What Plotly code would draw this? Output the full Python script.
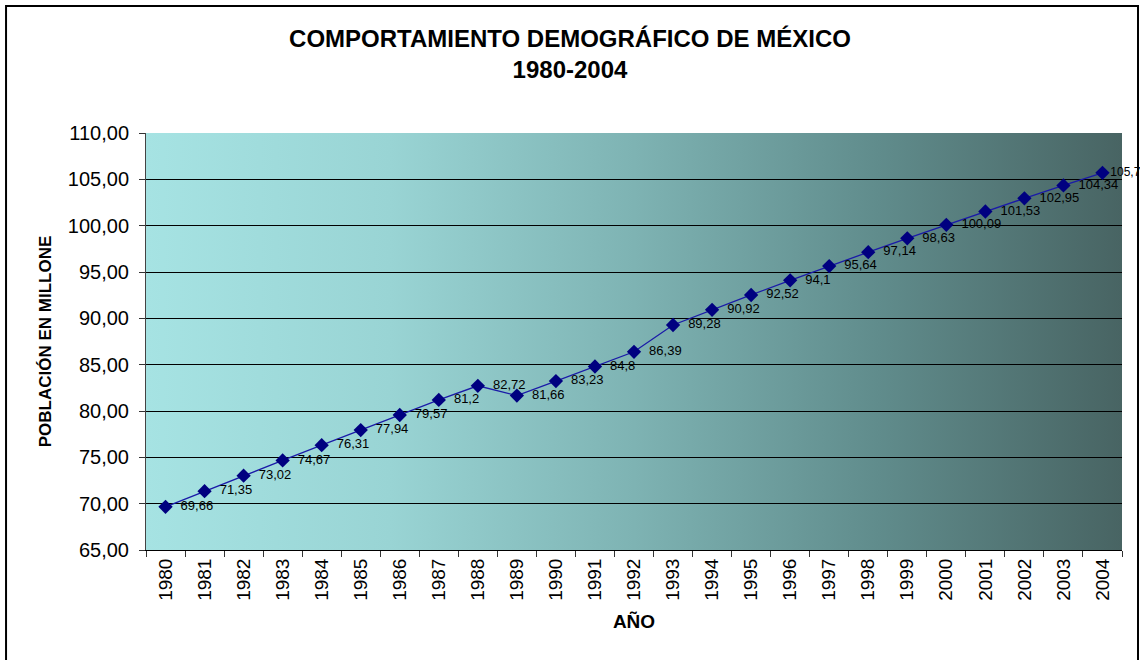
import base64
import plotly.graph_objects as go

# Datos: población de México (millones) por año
anios = [str(a) for a in range(1980, 2005)]
poblacion = [69.66, 71.35, 73.02, 74.67, 76.31, 77.94, 79.57, 81.2, 82.72, 81.66,
             83.23, 84.8, 86.39, 89.28, 90.92, 92.52, 94.1, 95.64, 97.14, 98.63,
             100.09, 101.53, 102.95, 104.34, 105.7]
etiquetas = ["\u00a0\u00a0" + f"{v:g}".replace(".", ",") for v in poblacion]
etiquetas[-1] = etiquetas[-1].strip("\u00a0")  # la última va pegada al borde

# Fondo degradado del área de trazado (SVG en línea)
svg = ('<svg xmlns="http://www.w3.org/2000/svg" width="100" height="100" preserveAspectRatio="none">'
       '<defs><linearGradient id="g" x1="0" y1="0" x2="1" y2="0">'
       '<stop offset="0" stop-color="#A6E3E3"/>'
       '<stop offset="0.25" stop-color="#99D4D4"/>'
       '<stop offset="0.5" stop-color="#7EB3B3"/>'
       '<stop offset="0.75" stop-color="#608C8C"/>'
       '<stop offset="1" stop-color="#486463"/>'
       '</linearGradient></defs>'
       '<rect width="100" height="100" fill="url(#g)"/></svg>')
fondo = "data:image/svg+xml;base64," + base64.b64encode(svg.encode()).decode()

fig = go.Figure()
fig.add_trace(go.Scatter(
    x=anios, y=poblacion, mode="lines+markers+text",
    text=etiquetas, textposition="middle right",
    textfont=dict(family="Arial", size=[13] * 24 + [12], color="black"),
    line=dict(color="#1A1AA8", width=1.3),
    marker=dict(symbol="diamond", size=11, color="#000080"),
    cliponaxis=False, showlegend=False,
))

fig.update_layout(
    width=1140, height=660,
    margin=dict(l=146, r=18, t=133, b=110),
    paper_bgcolor="white", plot_bgcolor="rgba(0,0,0,0)",
    separators=",.",
    font=dict(family="Arial", color="black"),
    title=dict(text="<b>COMPORTAMIENTO DEMOGRÁFICO DE MÉXICO<br>1980-2004</b>",
               x=0.5, xanchor="center", y=0.929, yanchor="top",
               font=dict(size=24, family="Arial", color="black")),
    images=[dict(source=fondo, xref="paper", yref="paper", x=0, y=1,
                 sizex=1, sizey=1, sizing="stretch", layer="below",
                 xanchor="left", yanchor="top")],
    shapes=[dict(type="rect", xref="paper", yref="paper",
                 x0=-0.1434, x1=1.0164, y0=-0.276, y1=1.3046,
                 line=dict(color="black", width=2))],
)

fig.update_xaxes(
    type="category", range=[-0.5, 24.5], tickangle=-90, tickfont=dict(size=19),
    ticks="outside", ticklen=6, tickcolor="#333",
    showline=True, linecolor="black", linewidth=1,
    showgrid=False, tickson="boundaries",
    title=dict(text="<b>AÑO</b>", font=dict(size=19), standoff=14),
)
fig.update_yaxes(
    range=[65, 110], dtick=5, tickformat=".2f", tickfont=dict(size=20),
    ticks="outside", ticklen=6, tickcolor="#333", ticklabelstandoff=6,
    showline=True, linecolor="#444", linewidth=1,
    showgrid=True, gridcolor="black", gridwidth=1, zeroline=False,
    title=dict(text="<b>POBLACIÓN EN MILLONE</b>", font=dict(size=17), standoff=11),
)

# quitar el margen por defecto del <body> para que el lienzo ocupe toda la ventana
fig.write_html("out.html", config={"displayModeBar": False},
               post_script="document.body.style.margin='0';")
